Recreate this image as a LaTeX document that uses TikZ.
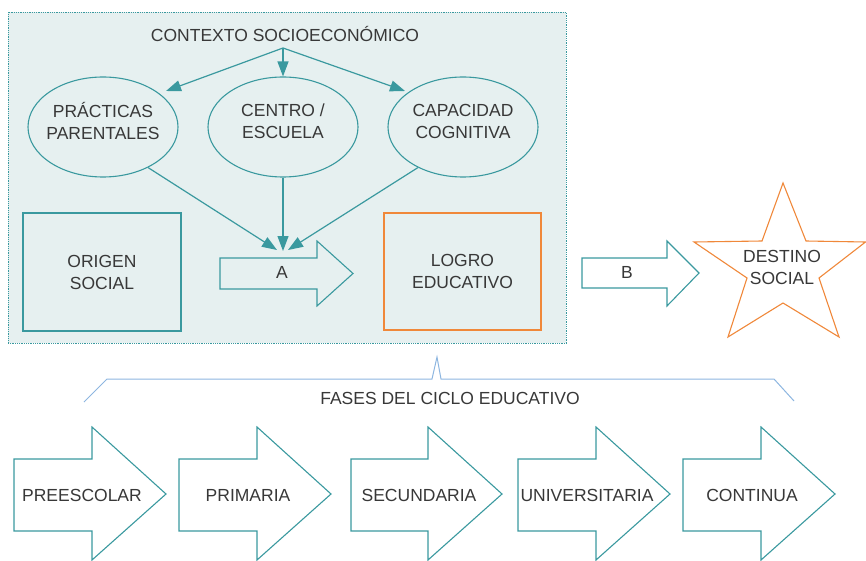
\documentclass[tikz,border=0pt]{standalone}
\usepackage{fontspec}
\setmainfont{Liberation Sans}
\usetikzlibrary{arrows.meta,shapes.geometric}
\definecolor{tealc}{HTML}{3A999F}
\definecolor{bgfill}{HTML}{E6F0F0}
\definecolor{orng}{HTML}{F0883A}
\definecolor{brk}{HTML}{8DB6E0}
\definecolor{txt}{HTML}{383838}
\begin{document}
\begin{tikzpicture}[x=1pt,y=-1pt,
  lbl/.style={font=\fontsize{17.5}{22}\selectfont, text=txt, align=center, inner sep=0pt},
  ell/.style={ellipse, draw=tealc, line width=1.1pt, minimum width=150pt, minimum height=100pt, inner sep=0pt},
  sqbox/.style={rectangle, draw=tealc, line width=1.1pt, inner sep=0pt, font=\fontsize{17.5}{22}\selectfont, text=txt, align=center},
  bigbox/.style={rectangle, draw=tealc, fill=bgfill, line width=0.8pt, dash pattern=on 0.9pt off 0.9pt, inner sep=0pt},
  conn/.style={draw=tealc, line width=1.2pt, -{Triangle[length=15pt,width=11pt]}},
  blockarrow/.style={draw=tealc, line width=1.1pt, line join=miter},
  brack/.style={draw=brk, line width=1pt},
  starline/.style={draw=orng, line width=1.1pt, line join=miter}
]
\useasboundingbox (0,0) rectangle (866,561);

% context box
\node[bigbox, minimum width=558pt, minimum height=331pt] (ctx) at (287,177.5) {};
\node[lbl] (title) at (285,34.5) {CONTEXTO SOCIOECONÓMICO};
\coordinate (src) at (283,48);

% ellipses
\node[ell] (prac) at (103,127) {};
\node[ell] (cen) at (283,127) {};
\node[ell] (cap) at (463,127) {};
\node[lbl] (pracT) at (103,121) {PRÁCTICAS\\PARENTALES};
\node[lbl] (cenT) at (283,121) {CENTRO /\\ESCUELA};
\node[lbl] (capT) at (463,121) {CAPACIDAD\\COGNITIVA};

\draw[conn] (src) -- (166,91);
\draw[conn] (src) -- (cen.north);
\draw[conn] (src) -- (405,91);

% boxes
\node[sqbox, minimum width=158pt, minimum height=118pt] (orig) at (102,272) {ORIGEN\\SOCIAL};
\node[sqbox, draw=orng, minimum width=157pt, minimum height=117pt] (logro) at (462.5,271.5) {LOGRO\\EDUCATIVO};

% arrow A
\draw[blockarrow, fill=bgfill] (220,258) -- (317,258) -- (317,241) -- (353,273.5) -- (317,306) -- (317,289) -- (220,289) -- cycle;
\node[lbl] (A) at (282,272) {A};
\coordinate (tipL) at (277,250);
\coordinate (tipM) at (283,251);
\coordinate (tipR) at (288,250);
\draw[conn] (prac.-42) -- (tipL);
\draw[conn] (cen.south) -- (tipM);
\draw[conn] (cap.-138) -- (tipR);

% arrow B
\draw[blockarrow, fill=white] (582,258) -- (667,258) -- (667,241) -- (699,273) -- (667,306) -- (667,288) -- (582,288) -- cycle;
\node[lbl] (B) at (627,272.5) {B};

% star
\draw[starline, fill=white] (783,183) -- (806,241) -- (865.5,242) -- (819,278) -- (839,337) -- (783,303) -- (728,337) -- (747,278) -- (694,242) -- (762,241) -- cycle;
\node[lbl] (dest) at (782,267.5) {DESTINO\\SOCIAL};

% bracket
\draw[brack] (84,402) -- (107,379) -- (432,379) -- (437,357) -- (441,379) -- (774,379) -- (794,401);
\node[lbl] (fases) at (450,398.5) {FASES DEL CICLO EDUCATIVO};

% phase arrows
\foreach \L/\H/\T/\cx/\txt [count=\i] in {14/92/166/82/PREESCOLAR, 179/257/331/248/PRIMARIA, 351/428/502/419/SECUNDARIA, 518/596/670/587/UNIVERSITARIA, 683/761/835/752/CONTINUA}{
  \draw[blockarrow, fill=white] (\L,459) -- (\H,459) -- (\H,427) -- (\T,494) -- (\H,560) -- (\H,531) -- (\L,531) -- cycle;
  \node[lbl] (ph\i) at (\cx,495) {\txt};
}
\end{tikzpicture}
\end{document}
